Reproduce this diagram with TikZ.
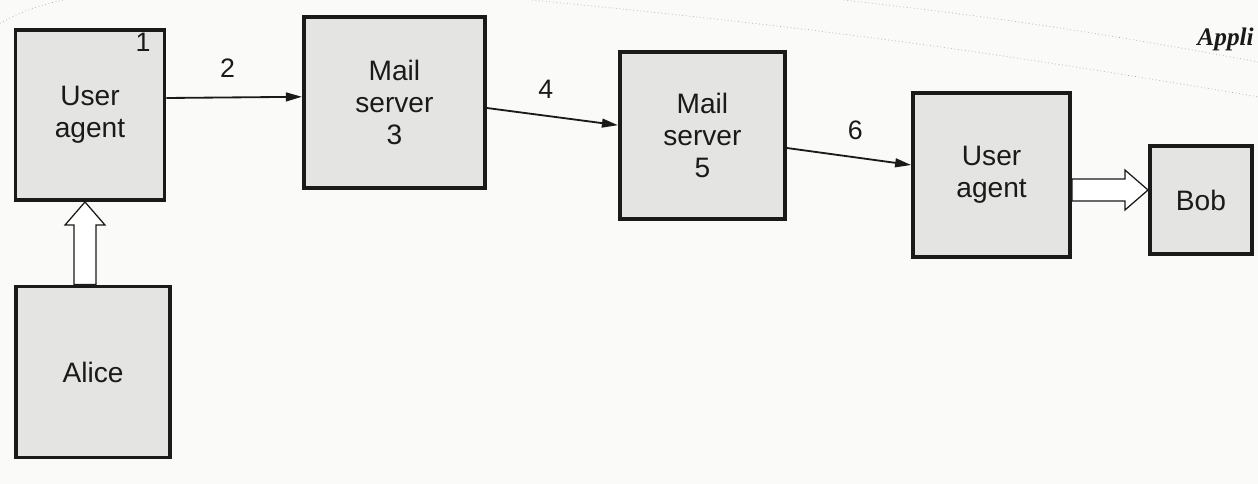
\documentclass[tikz,border=0pt]{standalone}
\usepackage{fontspec}
\setmainfont{Liberation Sans}
\newfontfamily\hdrfont{Liberation Serif}
\usetikzlibrary{arrows.meta,calc}
\definecolor{cpen}{HTML}{1A1A1A}
\definecolor{cbox}{HTML}{E4E4E2}
\definecolor{cpaper}{HTML}{FAFAF8}
\definecolor{cdot}{HTML}{A8A8A8}

\begin{document}
\begin{tikzpicture}[
    >={Triangle[length=4mm, width=2.2mm]},
    msg/.style={->, line width=1.3pt, draw=cpen},
    box/.style={draw=cpen, line width=2.8pt, fill=cbox, align=center, text=cpen,
                inner sep=0pt, font=\fontsize{20}{23}\selectfont},
    lbl/.style={font=\fontsize{19}{22}\selectfont, text=cpen},
    fat/.style={draw=cpen, line width=0.9pt, fill=white,
                to path={let \p1=(\tikztostart), \p2=(\tikztotarget),
                  \n1={atan2(\y2-\y1,\x2-\x1)}, \n2={veclen(\x2-\x1,\y2-\y1)},
                  \n3={\n2-16.4} in
                  [shift={(\p1)}, rotate=\n1]
                  (0pt,-7.8pt) -- (\n3,-7.8pt) -- (\n3,-14.2pt) -- (\n2,0pt)
                  -- (\n3,14.2pt) -- (\n3,7.8pt) -- (0pt,7.8pt) -- cycle}},
    rule/.style={draw=cdot, line width=0.5pt, dotted},
  ]
  \fill[cpaper] (0,0) rectangle (31.45,-12.1);
  \useasboundingbox (0,0) rectangle (31.45,-12.1);

  % page edge
  \draw[rule] (0,-0.58) to[bend left=8] (1.6,0);
  \draw[rule] (13.3,0) to[bend left=2] (31.45,-2.42);
  \draw[rule] (21.1,0) to[bend left=2] (31.45,-1.55);
  \node[anchor=west, inner sep=0pt, text=cpen] (hdr) at (29.93,-0.98)
       {\hdrfont\fontsize{18}{20}\selectfont\bfseries\itshape Appli};

  \node[box, minimum width=3.725cm, minimum height=4.25cm] (ua1) at (2.25,-2.875) {User\\agent};
  \node[lbl] (n1) at (3.575,-1.05) {1};
  \node[box, minimum width=3.85cm, minimum height=4.275cm] (alice) at (2.325,-9.3) {Alice};
  \node[box, minimum width=4.525cm, minimum height=4.275cm] (ms3) at (9.86,-2.56) {Mail\\server\\3};
  \node[box, minimum width=4.125cm, minimum height=4.175cm] (ms5) at (17.56,-3.39) {Mail\\server\\5};
  \node[box, minimum width=3.925cm, minimum height=4.1cm] (ua2) at (24.79,-4.375) {User\\agent};
  \node[box, minimum width=2.55cm, minimum height=2.7cm] (bob) at (30.025,-5.0) {Bob};

  \draw[msg] ([yshift=0.425cm]ua1.east) -- node[lbl, above=3.5mm, pos=0.45] {2} ([yshift=0.14cm]ms3.west);
  \draw[msg] ([yshift=-0.14cm]ms3.east) -- node[lbl, above=3mm, pos=0.45] {4} ([yshift=0.26cm]ms5.west);
  \draw[msg] ([yshift=-0.31cm]ms5.east) -- node[lbl, above=3mm, pos=0.55] {6} ([yshift=0.25cm]ua2.west);

  \draw[fat] ([xshift=-0.2cm]alice.north) to ([xshift=-0.125cm]ua1.south);
  \draw[fat] ([yshift=-0.375cm]ua2.east) to ([yshift=0.25cm]bob.west);
\end{tikzpicture}
\end{document}
